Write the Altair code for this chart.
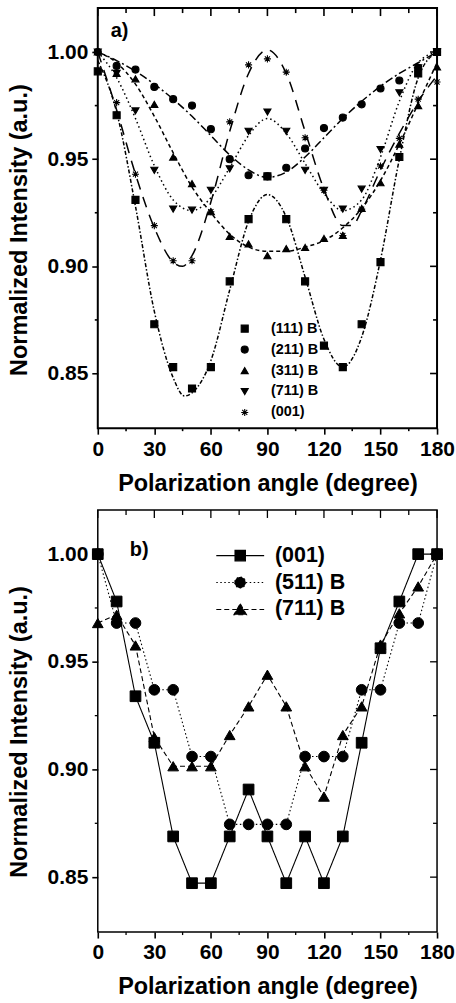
import altair as alt
import pandas as pd

# ---------------- data ----------------
ANGLES = [0, 10, 20, 30, 40, 50, 60, 70, 80, 90, 100, 110, 120, 130, 140, 150, 160, 170, 180]

# panel a) measured points
A_SERIES = ["(111) B", "(211) B", "(311) B", "(711) B", "(001)"]
a_111 = [0.991, 0.9705, 0.931, 0.873, 0.853, 0.843, 0.853, 0.893, 0.922, 0.942, 0.922, 0.893, 0.863, 0.853, 0.873, 0.902, 0.951, 0.990, 1.000]
a_211 = [1.000, 0.9935, 0.9918, 0.9837, 0.978, 0.975, 0.964, 0.950, 0.9425, 0.942, 0.946, 0.955, 0.9645, 0.9694, 0.9756, 0.983, 0.9867, 0.9926, 1.000]
a_311 = [1.000, 0.990, 0.9875, 0.9756, 0.951, 0.9386, 0.9255, 0.914, 0.9105, 0.905, 0.9083, 0.9088, 0.913, 0.9144, 0.927, 0.939, 0.957, 0.975, 0.993]
a_711 = [1.000, 0.990, 0.9725, 0.9448, 0.9267, 0.9262, 0.9355, 0.9455, 0.963, 0.972, 0.963, 0.9448, 0.9355, 0.9267, 0.936, 0.9545, 0.981, 0.9926, 1.000]
a_001 = [1.000, 0.9764, 0.943, 0.919, 0.9026, 0.9026, 0.9255, 0.9674, 0.994, 0.9968, 0.9906, 0.960, 0.9355, 0.9144, 0.9267, 0.9468, 0.9597, 0.978, 0.986]

# panel a) fitted curves
FIT_SERIES = ["fit (111) B", "fit (211) B", "fit (311) B", "fit (711) B", "fit (001)"]
FIT_ANG_111 = [0, 10, 20, 30, 40, 46, 50, 60, 70, 80, 90, 100, 110, 120, 130, 140, 150, 160, 170, 180]
FIT_111 = [0.996, 0.972, 0.928, 0.879, 0.848, 0.8395, 0.841, 0.856, 0.889, 0.921, 0.9335, 0.923, 0.895, 0.866, 0.853, 0.867, 0.903, 0.950, 0.988, 1.000]
FIT_ANG_211 = [0, 10, 20, 30, 40, 50, 60, 70, 80, 90, 100, 110, 120, 130, 140, 150, 160, 170, 180]
FIT_211 = [1.000, 0.996, 0.991, 0.985, 0.978, 0.970, 0.961, 0.952, 0.945, 0.9415, 0.944, 0.951, 0.960, 0.969, 0.977, 0.984, 0.990, 0.995, 1.000]
FIT_ANG_311 = [0, 10, 20, 30, 40, 50, 60, 70, 80, 90, 100, 110, 120, 130, 140, 150, 160, 170, 180]
FIT_311 = [1.000, 0.995, 0.985, 0.970, 0.953, 0.937, 0.925, 0.915, 0.909, 0.907, 0.907, 0.909, 0.912, 0.918, 0.927, 0.940, 0.957, 0.976, 0.995]
FIT_ANG_711 = [0, 10, 20, 30, 40, 50, 60, 70, 80, 90, 100, 110, 120, 130, 140, 150, 160, 170, 180]
FIT_711 = [1.000, 0.988, 0.969, 0.947, 0.931, 0.926, 0.932, 0.946, 0.961, 0.969, 0.962, 0.948, 0.934, 0.926, 0.931, 0.951, 0.977, 0.995, 1.000]
FIT_ANG_001 = [0, 10, 20, 30, 40, 45, 50, 60, 70, 80, 90, 100, 110, 120, 130, 135, 140, 150, 160, 170, 180]
FIT_001 = [1.000, 0.973, 0.943, 0.918, 0.902, 0.900, 0.905, 0.930, 0.963, 0.990, 1.001, 0.990, 0.963, 0.936, 0.919, 0.919, 0.926, 0.945, 0.962, 0.977, 0.989]

# panel b) measured points
B_SERIES = ["(001)", "(511) B", "(711) B"]
b_001 = [1.000, 0.978, 0.934, 0.9124, 0.8689, 0.8472, 0.8472, 0.8689, 0.8907, 0.8689, 0.8472, 0.8689, 0.8472, 0.8689, 0.9124, 0.9563, 0.978, 1.000, 1.000]
b_511 = [1.000, 0.968, 0.968, 0.937, 0.937, 0.906, 0.906, 0.8745, 0.8745, 0.8745, 0.8745, 0.906, 0.906, 0.906, 0.937, 0.937, 0.968, 0.968, 1.000]
b_711 = [0.968, 0.9718, 0.9576, 0.915, 0.9015, 0.9015, 0.9015, 0.916, 0.9293, 0.944, 0.9293, 0.9015, 0.8874, 0.916, 0.9293, 0.958, 0.9725, 0.985, 1.000]

# axis ticks
X_MAJOR = [0, 30, 60, 90, 120, 150, 180]
X_MINOR = [15, 45, 75, 105, 135, 165]
Y_MAJOR = [0.85, 0.90, 0.95, 1.00]
Y_MINOR = [0.875, 0.925, 0.975]

X_TITLE = "Polarization angle (degree)"
Y_TITLE = "Normalized Intensity (a.u.)"

# ---------------- styling ----------------
FONT = "Liberation Sans"
W = 340
HA = 421
HB = 423

ASTER = "M-1,0L1,0M0,-1L0,1M-0.72,-0.72L0.72,0.72M-0.72,0.72L0.72,-0.72"
A_SHAPES = ["square", "circle", "triangle-up", "triangle-down", ASTER]
A_DASH = [[4, 2, 1.5, 2], [8, 3, 2, 3], [4, 3], [1.5, 3], [11, 8]]

B_SHAPES = ["square", "circle", "triangle-up"]
B_DASH = [[1, 0], [1.5, 2.5], [5, 3]]
B_LEG = [
    "M-4.36,0L-0.95,0M0.95,0L4.36,0M-0.95,-0.95L0.95,-0.95L0.95,0.95L-0.95,0.95Z",
    "M-4.36,0L-1,0M1,0L4.36,0M-1,0A1,1,0,1,0,1,0A1,1,0,1,0,-1,0Z",
    "M-4.36,0L-0.6,0M0.6,0L4.36,0M0,-1.05L1.15,0.95L-1.15,0.95Z",
]

xs = alt.Scale(domain=[0, 180], nice=False, zero=False)
ys = alt.Scale(domain=[0.8245, 1.0205], nice=False, zero=False)


def long_df(series, xs_list, ys_list):
    rows = []
    for s, xa, ya in zip(series, xs_list, ys_list):
        for x, y in zip(xa, ya):
            rows.append({"angle": x, "value": y, "series": s})
    return pd.DataFrame(rows)


df_a = long_df(A_SERIES, [ANGLES] * 5, [a_111, a_211, a_311, a_711, a_001])
df_fit = long_df(FIT_SERIES,
                 [FIT_ANG_111, FIT_ANG_211, FIT_ANG_311, FIT_ANG_711, FIT_ANG_001],
                 [FIT_111, FIT_211, FIT_311, FIT_711, FIT_001])
df_b = long_df(B_SERIES, [ANGLES] * 3, [b_001, b_511, b_711])


def x_axis():
    return alt.Axis(values=X_MAJOR, format="d", tickSize=6, tickWidth=1.6, labelPadding=4,
                    labelFlush=False, title=X_TITLE, titleY=62, titleBaseline="alphabetic",
                    domain=False, grid=False)


def y_axis():
    return alt.Axis(values=Y_MAJOR, format=".2f", tickSize=6, tickWidth=1.6, labelPadding=4,
                    title=Y_TITLE, titleX=-78, titleY=222, titleAngle=270,
                    titleBaseline="middle", domain=False, grid=False)


XQ = dict(scale=xs)
YQ = dict(scale=ys)


def tick_layers(H, lw):
    xmaj = pd.DataFrame({"angle": X_MAJOR})
    xmin = pd.DataFrame({"angle": X_MINOR})
    ymaj = pd.DataFrame({"value": Y_MAJOR})
    ymin = pd.DataFrame({"value": Y_MINOR})
    X = alt.X("angle:Q", **XQ)
    Y = alt.Y("value:Q", **YQ)
    rule = dict(color="black", strokeWidth=lw)
    return [
        alt.Chart(xmin).mark_rule(**rule).encode(x=X, y=alt.value(H), y2=alt.value(H + 3)),
        alt.Chart(xmaj).mark_rule(**rule).encode(x=X, y=alt.value(0), y2=alt.value(8)),
        alt.Chart(xmin).mark_rule(**rule).encode(x=X, y=alt.value(0), y2=alt.value(5)),
        alt.Chart(ymin).mark_rule(**rule).encode(y=Y, x=alt.value(0), x2=alt.value(-3)),
        alt.Chart(ymaj).mark_rule(**rule).encode(y=Y, x=alt.value(W), x2=alt.value(W - 7)),
        alt.Chart(ymin).mark_rule(**rule).encode(y=Y, x=alt.value(W), x2=alt.value(W - 4)),
    ]


# ---------------- panel a ----------------
fits = alt.Chart(df_fit).mark_line(color="black", strokeWidth=1.5, interpolate="monotone").encode(
    x=alt.X("angle:Q", axis=x_axis(), **XQ),
    y=alt.Y("value:Q", axis=y_axis(), **YQ),
    strokeDash=alt.StrokeDash("series:N", scale=alt.Scale(domain=FIT_SERIES, range=A_DASH), legend=None),
    detail="series:N",
)

pts_a = alt.Chart(df_a).mark_point(filled=True, fill="black", stroke="black", strokeWidth=1.1,
                                   size=50, opacity=1).encode(
    x=alt.X("angle:Q", **XQ),
    y=alt.Y("value:Q", **YQ),
    shape=alt.Shape("series:N", scale=alt.Scale(domain=A_SERIES, range=A_SHAPES),
                    legend=alt.Legend(title=None, orient="none", legendX=140, legendY=314,
                                      padding=0, symbolSize=50, labelOffset=19, rowPadding=6,
                                      labelFontSize=14.5, labelFont=FONT, labelFontWeight="bold",
                                      labelColor="black", symbolStrokeWidth=1.1)),
)

lab_a = alt.Chart(pd.DataFrame({"t": ["a)"]})).mark_text(
    align="left", baseline="middle", font=FONT, fontSize=20, fontWeight="bold", color="black"
).encode(x=alt.value(13), y=alt.value(23), text="t:N")

panel_a = alt.layer(fits, pts_a, *tick_layers(HA, 1.6), lab_a).properties(
    width=W, height=HA, view=alt.ViewBackground(stroke="black", strokeWidth=2)
)

# ---------------- panel b ----------------
lines_b = alt.Chart(df_b).mark_line(color="black", strokeWidth=1.1).encode(
    x=alt.X("angle:Q", axis=x_axis(), **XQ),
    y=alt.Y("value:Q", axis=y_axis(), **YQ),
    strokeDash=alt.StrokeDash("series:N", scale=alt.Scale(domain=B_SERIES, range=B_DASH), legend=None),
    detail="series:N",
)

pts_b = alt.Chart(df_b).mark_point(filled=True, fill="black", stroke="black", strokeWidth=1,
                                   size=115, opacity=1).encode(
    x=alt.X("angle:Q", **XQ),
    y=alt.Y("value:Q", **YQ),
    shape=alt.Shape("series:N", scale=alt.Scale(domain=B_SERIES, range=B_SHAPES), legend=None),
)

leg_b_def = dict(title=None, orient="none", legendX=132, legendY=35, padding=0, symbolSize=121,
                 labelOffset=24, rowPadding=4, labelFontSize=21.5, labelFont=FONT,
                 labelFontWeight="bold", labelColor="black", symbolStrokeWidth=1.1)

leg_b = alt.Chart(df_b).transform_calculate(lg="datum.series").transform_filter("false").mark_point(
    filled=True, fill="black", stroke="black", strokeWidth=1.1, opacity=1
).encode(
    x=alt.X("angle:Q", **XQ),
    y=alt.Y("value:Q", **YQ),
    shape=alt.Shape("lg:N", scale=alt.Scale(domain=B_SERIES, range=B_LEG),
                    legend=alt.Legend(**leg_b_def)),
    strokeDash=alt.StrokeDash("lg:N", scale=alt.Scale(domain=B_SERIES, range=B_DASH),
                              legend=alt.Legend(**leg_b_def)),
)

lab_b = alt.Chart(pd.DataFrame({"t": ["b)"]})).mark_text(
    align="left", baseline="middle", font=FONT, fontSize=20, fontWeight="bold", color="black"
).encode(x=alt.value(32), y=alt.value(40), text="t:N")

panel_b = alt.layer(lines_b, pts_b, leg_b, *tick_layers(HB, 1.3), lab_b).resolve_scale(
    shape="independent", strokeDash="independent"
).properties(width=W, height=HB, view=alt.ViewBackground(stroke="black", strokeWidth=1.5))

chart = alt.vconcat(panel_a, panel_b, spacing=12).properties(
    padding={"left": 7, "top": 5, "right": 0, "bottom": 0}
).configure_axis(
    labelFont=FONT, labelFontSize=21, labelFontWeight="bold", labelColor="black",
    titleFont=FONT, titleFontSize=23.5, titleFontWeight="bold", titleColor="black",
    tickColor="black",
).configure_legend(labelFont=FONT, labelFontWeight="bold", labelColor="black")

chart.save("out.html", embed_options={"renderer": "svg", "actions": False})
